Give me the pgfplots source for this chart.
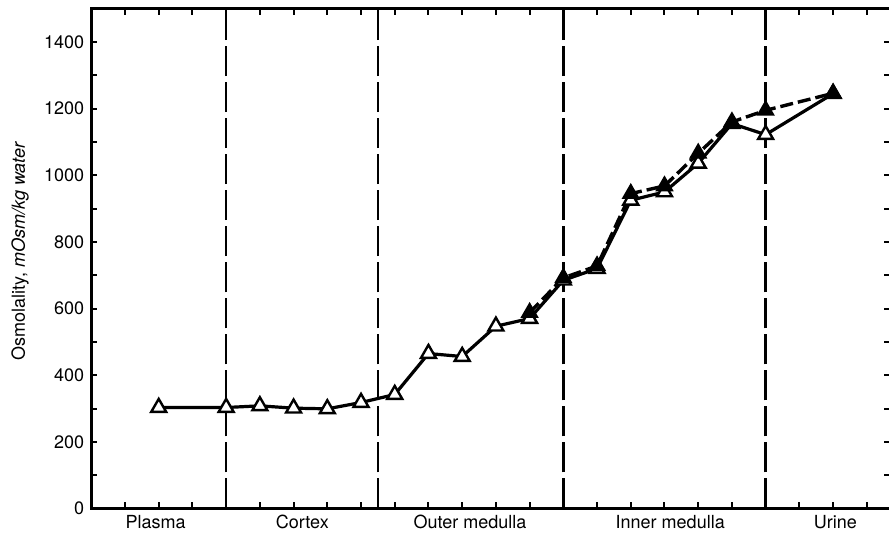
\documentclass[border=0pt]{standalone}
\usepackage{pgfplots}
\pgfplotsset{compat=1.18}
\usepackage{fontspec}
\setmainfont{TeX Gyre Heros}
\begin{document}
\begin{tikzpicture}
\begin{axis}[name=ax, scale only axis,
  width=399.2pt, height=249.65pt,
  xmin=0, xmax=23.7, ymin=0, ymax=1500,
  axis line style={line width=1.3pt},
  xtick={0,...,23}, xticklabels={},
  ytick={0,200,...,1400}, minor ytick={100,300,...,1500},
  tick align=inside, major tick length=3pt, minor tick length=3pt,
  tick style={line width=1pt, black},
  extra x ticks={1.91,6.26,11.23,17.17,22.07},
  extra x tick labels={Plasma,Cortex,Outer medulla,Inner medulla,Urine},
  extra x tick style={major tick length=0pt},
  /pgf/number format/assume math mode=true,
  /pgf/number format/1000 sep={},
  tick label style={font=\fontsize{9}{10}\selectfont},
  ylabel={Osmolality, \textit{mOsm/kg water}},
  every axis y label/.style={at={(axis description cs:-0.089,0.515)}, rotate=90, anchor=center, font=\fontsize{9}{10}\selectfont},
]
% section separators
\addplot[black, line width=1.2pt, dash pattern=on 15pt off 3pt] coordinates {(4,0) (4,1500)};
\addplot[black, line width=1.2pt, dash pattern=on 15pt off 3pt] coordinates {(8.5,0) (8.5,1500)};
\addplot[black, line width=1.2pt, dash pattern=on 15pt off 3pt] coordinates {(14,0) (14,1500)};
\addplot[black, line width=1.2pt, dash pattern=on 15pt off 3pt] coordinates {(20,0) (20,1500)};
% solid series, open triangles
\addplot[black, line width=1.6pt, mark=triangle*, mark size=4.3pt,
  mark options={solid, fill=white, draw=black, line width=1.2pt}] coordinates {
  (2,303) (4,303) (5,308) (6,301) (7,299) (8,318) (9,342) (10,465) (11,456)
  (12,547) (13,570) (14,685) (15,720) (16,925) (17,950) (18,1036) (19,1155)
  (20,1122) (22,1245)};
% dashed series, filled triangles
\addplot[black, line width=1.7pt, dash pattern=on 6.5pt off 2.5pt, mark=triangle*, mark size=4.5pt,
  mark options={solid, fill=black, draw=black, line width=0.8pt}] coordinates {
  (13,588) (14,692) (15,728) (16,945) (17,968) (18,1066) (19,1160) (20,1195) (22,1246)};
\end{axis}
\pgfresetboundingbox
\path ([xshift=-45.6pt,yshift=-13pt]ax.south west) rectangle ([xshift=-0.7pt,yshift=4.35pt]ax.north east);
\end{tikzpicture}
\end{document}
